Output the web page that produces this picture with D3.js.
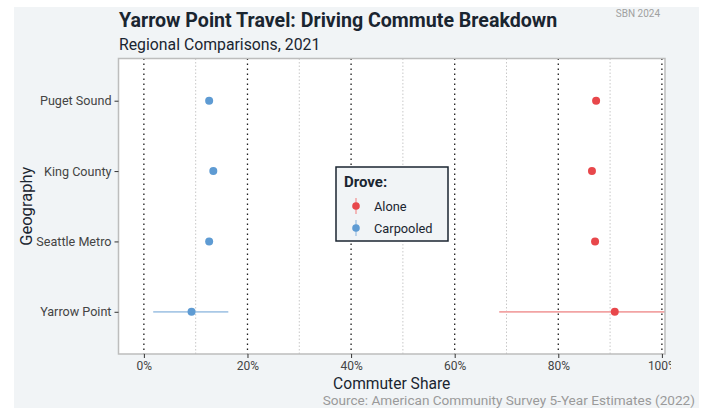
<!DOCTYPE html>
<html><head><meta charset="utf-8">
<script src="https://cdn.jsdelivr.net/npm/d3@7"></script>
<style>html,body{margin:0;padding:0;background:#fff;}svg{display:block;}</style>
</head><body>
<script>
const categories = ["Puget Sound", "King County", "Seattle Metro", "Yarrow Point"];
const aloneShare = [87.3, 86.5, 87.1, 90.9];
const aloneLow   = [86.8, 86.0, 86.6, 68.6];
const aloneHigh  = [87.8, 87.0, 87.6, 113.2];
const carpoolShare = [12.6, 13.4, 12.6, 9.2];
const carpoolLow   = [12.2, 13.0, 12.2, 1.8];
const carpoolHigh  = [13.0, 13.8, 13.0, 16.3];
const majorTicks = [0, 20, 40, 60, 80, 100];
const minorTicks = [10, 30, 50, 70, 90];
const seriesNames = ["Alone", "Carpooled"];

const W = 706, H = 408;
const P = {l: 118.5, r: 665, t: 58.5, b: 354};
const red = "#e8474b", redLight = "#f2a3a3", blue = "#5e9bd3", blueLight = "#a9c8e6";
const font = "Roboto, 'Open Sans', sans-serif";

const svg = d3.select("body").append("svg").attr("width", W).attr("height", H);
svg.append("rect").attr("x", 14).attr("y", 7).attr("width", 685).attr("height", H - 7).attr("fill", "#f1f4f6");

const x = d3.scaleLinear().domain([-4.9, 100.6]).range([P.l, P.r]);
const y = d3.scalePoint().domain(categories).range([P.t, P.b]).padding(0.6);

svg.append("defs").append("clipPath").attr("id", "pc")
  .append("rect").attr("x", P.l).attr("y", P.t).attr("width", P.r - P.l).attr("height", P.b - P.t);
svg.select("defs").append("clipPath").attr("id", "lc")
  .append("rect").attr("x", 0).attr("y", 0).attr("width", 671).attr("height", H);

svg.append("rect").attr("x", P.l).attr("y", P.t).attr("width", P.r - P.l).attr("height", P.b - P.t).attr("fill", "#fff");

const g = svg.append("g").attr("clip-path", "url(#pc)");
g.selectAll(".minor").data(minorTicks).join("line")
  .attr("x1", d => x(d)).attr("x2", d => x(d)).attr("y1", P.t).attr("y2", P.b)
  .attr("stroke", "#c8c8c8").attr("stroke-width", 1).attr("stroke-dasharray", "1.5,2");
g.selectAll(".major").data(majorTicks).join("line")
  .attr("x1", d => x(d)).attr("x2", d => x(d)).attr("y1", P.t).attr("y2", P.b)
  .attr("stroke", "#1d1d1d").attr("stroke-width", 1.3).attr("stroke-dasharray", "1.6,3.4");

const rows = categories.map((c, i) => ({c, a: aloneShare[i], al: aloneLow[i], ah: aloneHigh[i], p: carpoolShare[i], pl: carpoolLow[i], ph: carpoolHigh[i]}));
g.selectAll(".ea").data(rows).join("line")
  .attr("x1", d => x(d.al)).attr("x2", d => x(d.ah)).attr("y1", d => y(d.c)).attr("y2", d => y(d.c))
  .attr("stroke", redLight).attr("stroke-width", 1.8);
g.selectAll(".ep").data(rows).join("line")
  .attr("x1", d => x(d.pl)).attr("x2", d => x(d.ph)).attr("y1", d => y(d.c)).attr("y2", d => y(d.c))
  .attr("stroke", blueLight).attr("stroke-width", 1.8);
g.selectAll(".pa").data(rows).join("circle")
  .attr("cx", d => x(d.a)).attr("cy", d => y(d.c)).attr("r", 4).attr("fill", red);
g.selectAll(".pp").data(rows).join("circle")
  .attr("cx", d => x(d.p)).attr("cy", d => y(d.c)).attr("r", 4).attr("fill", blue);

svg.append("rect").attr("x", P.l).attr("y", P.t).attr("width", P.r - P.l).attr("height", P.b - P.t)
  .attr("fill", "none").attr("stroke", "#bdbdbd").attr("stroke-width", 1.5);

// axes
const xAxis = svg.append("g").attr("transform", `translate(0,${P.b})`).attr("clip-path", "url(#lc)")
  .call(d3.axisBottom(x).tickValues(majorTicks).tickFormat(d => d + "%").tickSize(4).tickPadding(3));
xAxis.select(".domain").remove();
xAxis.selectAll("line").attr("stroke", "#333").attr("stroke-width", 1);
xAxis.selectAll("text").attr("font-family", font).attr("font-size", 12).attr("fill", "#444");

const yAxis = svg.append("g").attr("transform", `translate(${P.l},0)`)
  .call(d3.axisLeft(y).tickSize(4).tickPadding(3));
yAxis.select(".domain").remove();
yAxis.selectAll("line").attr("stroke", "#333").attr("stroke-width", 1);
yAxis.selectAll("text").attr("font-family", font).attr("font-size", 12.6).attr("fill", "#444");

// titles
svg.append("text").attr("x", 119).attr("y", 27).text("Yarrow Point Travel: Driving Commute Breakdown")
  .attr("font-family", font).attr("font-weight", 700).attr("font-size", 19.6).attr("fill", "#1a2530");
svg.append("text").attr("x", 119).attr("y", 50).text("Regional Comparisons, 2021")
  .attr("font-family", font).attr("font-size", 15.8).attr("fill", "#1a2530");
svg.append("text").attr("x", 660).attr("y", 17).attr("text-anchor", "end").text("SBN 2024")
  .attr("font-family", font).attr("font-size", 10).attr("fill", "#a0a0a0");
svg.append("text").attr("x", (P.l + P.r) / 2).attr("y", 389).attr("text-anchor", "middle").text("Commuter Share")
  .attr("font-family", font).attr("font-size", 15.6).attr("fill", "#1a2530");
svg.append("text").attr("transform", `translate(32,${(P.t + P.b) / 2}) rotate(-90)`).attr("text-anchor", "middle").text("Geography")
  .attr("font-family", font).attr("font-size", 16.5).attr("fill", "#1a2530");
svg.append("text").attr("x", 695).attr("y", 404.5).attr("text-anchor", "end").text("Source: American Community Survey 5-Year Estimates (2022)")
  .attr("font-family", font).attr("font-size", 13.6).attr("fill", "#9a9a9a");

// legend
const lg = svg.append("g").attr("transform", "translate(336,167)");
lg.append("rect").attr("width", 112).attr("height", 74).attr("fill", "#f1f4f6").attr("stroke", "#1a2530").attr("stroke-width", 1.5);
lg.append("text").attr("x", 8).attr("y", 20).text("Drove:").attr("font-family", font).attr("font-weight", 700).attr("font-size", 15).attr("fill", "#1a2530");
const keyCols = [[red, redLight], [blue, blueLight]];
seriesNames.forEach((n, i) => {
  const ky = 39 + i * 22;
  lg.append("line").attr("x1", 20).attr("x2", 20).attr("y1", ky - 8).attr("y2", ky + 8).attr("stroke", keyCols[i][1]).attr("stroke-width", 1.5);
  lg.append("circle").attr("cx", 20).attr("cy", ky).attr("r", 3.8).attr("fill", keyCols[i][0]);
  lg.append("text").attr("x", 38).attr("y", ky + 4.5).text(n).attr("font-family", font).attr("font-size", 12.8).attr("fill", "#1a2530");
});
</script>
</body></html>
